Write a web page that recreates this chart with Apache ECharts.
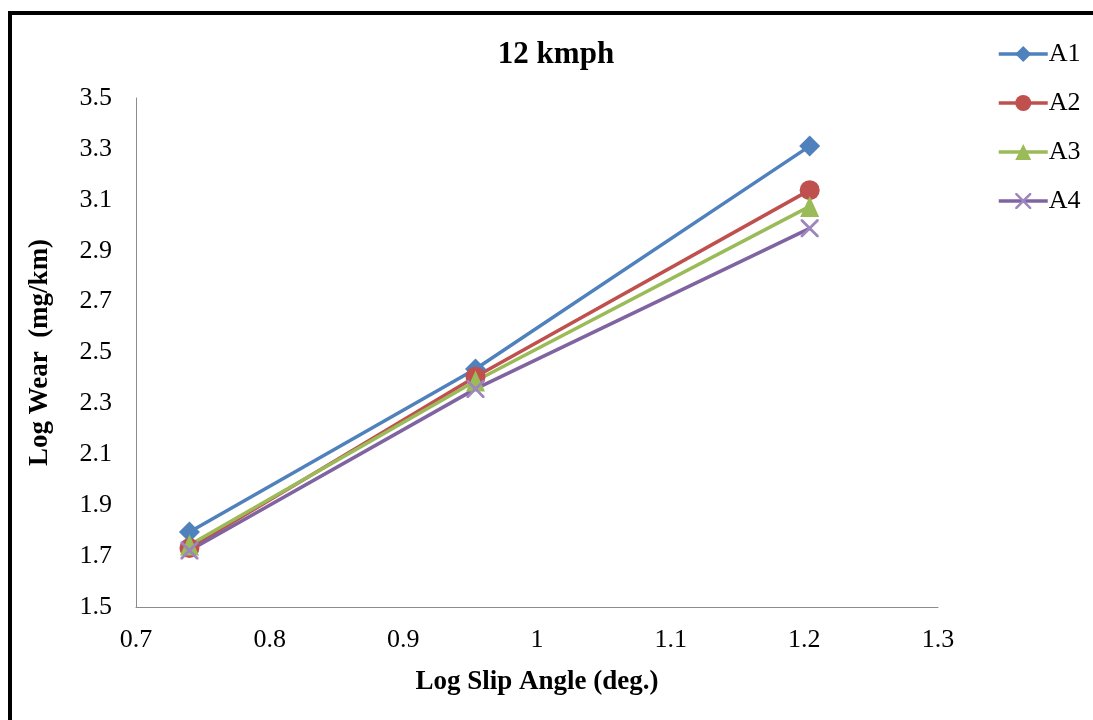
<!DOCTYPE html>
<html>
<head>
<meta charset="utf-8">
<style>
  html, body { margin: 0; padding: 0; background: #fff; overflow: hidden; }
  #frame { position: absolute; left: 8px; top: 11px; width: 1200px; height: 800px;
           border: 4px solid #000; box-sizing: border-box; }
  #chart { position: absolute; left: 0; top: 0; width: 1093px; height: 720px; }
</style>
<script src="https://cdn.jsdelivr.net/npm/echarts@6/dist/echarts.min.js"></script>
</head>
<body>
<div id="frame"></div>
<div id="chart"></div>
<script>
// Log slip angle (deg.) at the three test points
const slipAngle = [0.740, 0.954, 1.204];
// Log wear (mg/km) for each compound
const seriesNames = ['A1', 'A2', 'A3', 'A4'];
const wearA1 = [1.795, 2.435, 3.311];
const wearA2 = [1.732, 2.405, 3.138];
const wearA3 = [1.744, 2.388, 3.074];
const wearA4 = [1.722, 2.357, 2.988];
const xTicks = [0.7, 0.8, 0.9, 1.0, 1.1, 1.2, 1.3];
const yTicks = [1.5, 1.7, 1.9, 2.1, 2.3, 2.5, 2.7, 2.9, 3.1, 3.3, 3.5];

const colors = ['#4F81BD', '#C0504D', '#9BBB59', '#8064A2'];
// thin "x" marker, drawn as a filled outline
const starPath = 'path://M0,0L1.1,0L5,3.9L8.9,0L10,0L10,1.1L6.1,5L10,8.9L10,10L8.9,10L5,6.1L1.1,10L0,10L0,8.9L3.9,5L0,1.1Z';
const symbols = ['diamond', 'circle', 'triangle', starPath];
const symbolSizes = [21, 20, [19, 21], 18];
const values = [wearA1, wearA2, wearA3, wearA4];

const font = '"Liberation Serif", "Times New Roman", serif';

const chart = echarts.init(document.getElementById('chart'));
chart.setOption({
  animation: false,
  backgroundColor: 'transparent',
  color: colors,
  title: {
    text: '12 kmph',
    left: 551, top: 34, textAlign: 'center',
    textStyle: { fontFamily: font, fontWeight: 'bold', fontSize: 31, color: '#000' }
  },
  legend: {
    orient: 'vertical',
    left: 997, top: 41,
    padding: 0,
    itemWidth: 49, itemHeight: 20,
    itemGap: 23,
    data: seriesNames,
    lineStyle: { width: 3.5 },
    textStyle: { fontFamily: font, fontSize: 26, color: '#000', padding: [0, 0, 0, -4] }
  },
  grid: { left: 136, right: 155, top: 98, bottom: 113 },
  xAxis: {
    type: 'value',
    min: 0.7, max: 1.3, interval: 0.1,
    name: 'Log Slip Angle (deg.)',
    nameLocation: 'middle', nameGap: 62,
    nameTextStyle: { fontFamily: font, fontWeight: 'bold', fontSize: 27, color: '#000' },
    axisLine: { lineStyle: { color: '#8c8c8c', width: 1 } },
    axisTick: { show: false },
    splitLine: { show: false },
    axisLabel: {
      margin: 20, fontFamily: font, fontSize: 26, color: '#000',
      formatter: v => { const t = xTicks.find(x => Math.abs(x - v) < 1e-6); return t === undefined ? '' : String(t); }
    }
  },
  yAxis: {
    type: 'value',
    min: 1.5, max: 3.5, interval: 0.2,
    name: 'Log Wear  (mg/km)',
    nameLocation: 'middle', nameGap: 82, nameRotate: 90,
    nameTextStyle: { fontFamily: font, fontWeight: 'bold', fontSize: 27, color: '#000' },
    axisLine: { show: true, lineStyle: { color: '#8c8c8c', width: 1 } },
    axisTick: { show: false },
    splitLine: { show: false },
    axisLabel: {
      margin: 24, fontFamily: font, fontSize: 26, color: '#000',
      formatter: v => { const t = yTicks.find(y => Math.abs(y - v) < 1e-6); return t === undefined ? '' : t.toFixed(1); }
    }
  },
  series: seriesNames.map((name, i) => ({
    name,
    type: 'line',
    data: slipAngle.map((x, j) => [x, values[i][j]]),
    symbol: symbols[i],
    symbolSize: symbolSizes[i],
    showAllSymbol: true,
    lineStyle: { width: 3.5, color: colors[i] },
    itemStyle: { color: i === 3 ? '#9d86c0' : colors[i] },
    emphasis: { disabled: true }
  }))
});
</script>
</body>
</html>
